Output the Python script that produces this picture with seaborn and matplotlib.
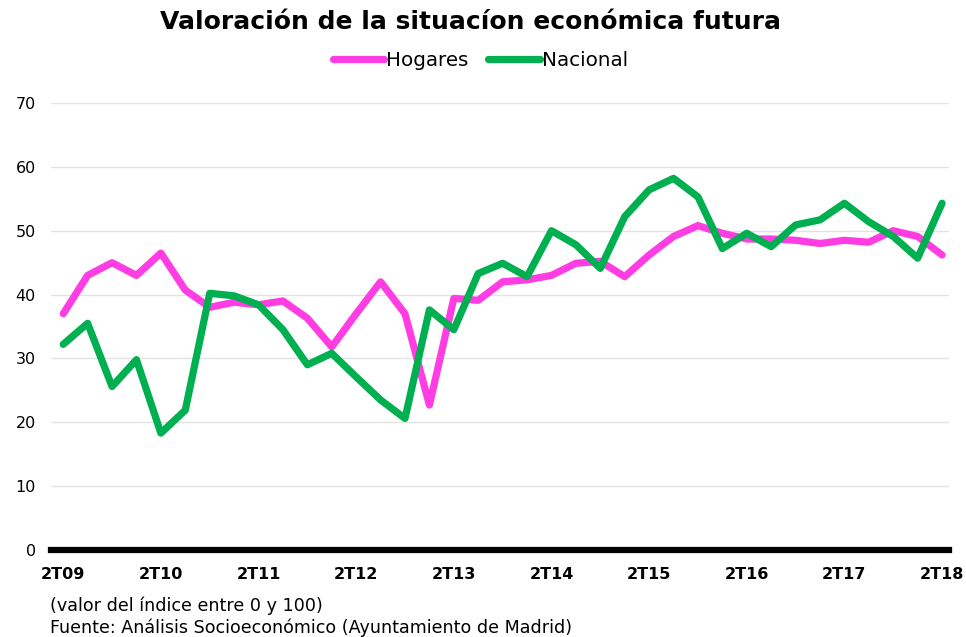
import pandas as pd
import seaborn as sns
import matplotlib.pyplot as plt

# quarters 2T09 .. 2T18
quarters = [f"{q}T{y:02d}" for y in range(9, 19) for q in range(1, 5)][1:38]
hogares = [37, 43, 45, 43, 46.5, 40.7, 38, 38.8, 38.4, 39, 36.3, 31.8,
           37, 42, 37, 22.7, 39.4, 39.1, 42, 42.3, 43, 44.9, 45.2, 42.8,
           46.2, 49.1, 50.8, 49.6, 48.7, 48.7, 48.5, 48, 48.5, 48.2, 50, 49.1, 46.2]
nacional = [32.2, 35.5, 25.6, 29.8, 18.3, 21.9, 40.2, 39.8, 38.4, 34.5, 29, 30.8,
            27.1, 23.5, 20.6, 37.6, 34.5, 43.3, 44.9, 42.8, 50, 47.8, 44.1, 52.2,
            56.4, 58.2, 55.3, 47.2, 49.6, 47.5, 50.9, 51.7, 54.3, 51.4, 49.1, 45.7, 54.3]
yticks = [0, 10, 20, 30, 40, 50, 60, 70]

df = pd.DataFrame({"pos": range(len(quarters)), "Hogares": hogares, "Nacional": nacional})
long = df.melt(id_vars="pos", var_name="serie", value_name="valor")

sns.set_style("white")
plt.rcParams['font.family'] = ['DejaVu Sans']
plt.rcParams['text.color'] = 'black'
plt.rcParams['xtick.color'] = 'black'
plt.rcParams['ytick.color'] = 'black'

fig = plt.figure(figsize=(9.66, 6.37), dpi=100)
ax = fig.add_axes([0.0528, 0.1366, 0.930, 0.7017])

sns.lineplot(data=long, x="pos", y="valor", hue="serie",
             palette={"Hogares": "#FF3DE3", "Nacional": "#00B050"},
             linewidth=5.2, ax=ax, legend=True)
for ln in ax.lines:
    ln.set_solid_capstyle("round")
    ln.set_solid_joinstyle("round")

ax.set_ylim(0, 70)
ax.set_xlim(-0.5, 36.3)
ax.set_yticks(yticks)
ax.set_yticklabels([str(v) for v in yticks], fontsize=11.5)
xt = list(range(0, 37, 4))
ax.set_xticks(xt)
ax.set_xticklabels([quarters[i] for i in xt], fontsize=11.5, fontweight="bold")
ax.tick_params(axis="both", length=0)
ax.tick_params(axis="y", pad=11)
ax.tick_params(axis="x", pad=12)
ax.grid(axis="y", color="#E3E3E3", linewidth=1)
ax.set_axisbelow(True)
ax.set_xlabel("")
ax.set_ylabel("")
for s in ["top", "right", "left"]:
    ax.spines[s].set_visible(False)
ax.spines["bottom"].set_linewidth(4.5)
ax.spines["bottom"].set_color("black")
ax.spines["bottom"].set_zorder(5)

leg = ax.legend(loc="center", bbox_to_anchor=(0.478, 1.096), ncol=2, frameon=False,
                fontsize=14.3, handlelength=2.6, handletextpad=0.1, columnspacing=1.0,
                borderaxespad=0)
for h in leg.get_lines():
    h.set_linewidth(5.2)

fig.text(0.487, 0.965, "Valoración de la situacíon económica futura",
         ha="center", va="center", fontsize=18, fontweight="bold")
fig.text(0.052, 0.049, "(valor del índice entre 0 y 100)", fontsize=12.6, va="center")
fig.text(0.052, 0.015, "Fuente: Análisis Socioeconómico (Ayuntamiento de Madrid)",
         fontsize=12.6, va="center")

fig.savefig("out.png", dpi=100)
